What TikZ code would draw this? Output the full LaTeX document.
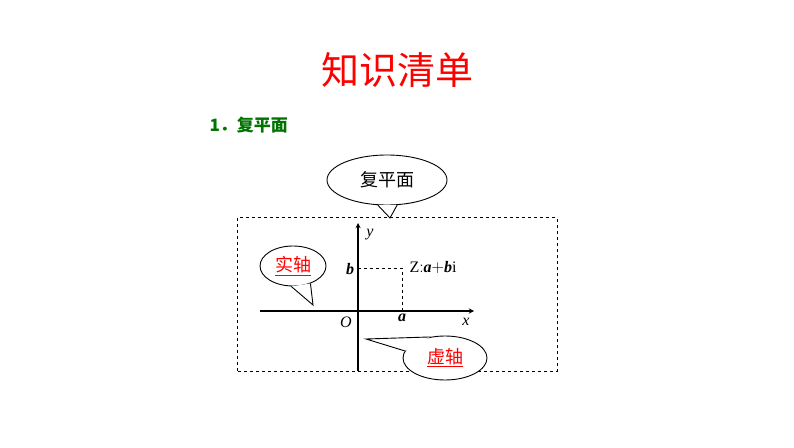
\documentclass[tikz,border=0pt]{standalone}
\usepackage{fontspec}
\newfontfamily\cjk{Noto Sans CJK SC}
\setmainfont{Liberation Serif}
\usetikzlibrary{shapes.geometric, arrows, positioning, calc}
\tikzstyle{arrow} = [line width=1.3pt,->,>=stealth]
\tikzstyle{bubble} = [ellipse, draw, line width=0.9pt, fill=white, inner sep=0pt]
\begin{document}
\begin{tikzpicture}[x=1pt,y=1pt]
\useasboundingbox (0,0) rectangle (794,447);

% Title
\node[text=red, font=\cjk\fontsize{38}{38}\selectfont] (title) at (397,377) {知识清单};
\node[anchor=west, text=green!45!black, font=\cjk\bfseries\fontsize{17}{17}\selectfont] (sec) at (206,322) {1．复平面};

% Plane frame
\draw[line width=1pt, dashed] (237,76) rectangle (557,229);

% Axes
\coordinate (O) at (358,136);
\coordinate (ybot) at (358,76);
\coordinate (ytop) at (358,224);
\coordinate (xl) at (260,136);
\coordinate (xr) at (474,136);
\draw[arrow] (ybot) -- (ytop);
\draw[arrow] (xl) -- (xr);
\node[font=\itshape\fontsize{16}{16}\selectfont] (ylab) at (370,212) {y};
\node[font=\itshape\fontsize{16}{16}\selectfont] (xlab) at (466,125) {x};
\node[font=\itshape\fontsize{16}{16}\selectfont] (olab) at (346,125) {O};
\node[font=\itshape\bfseries\fontsize{16}{16}\selectfont] (alab) at (402,129) {a};
\node[font=\itshape\bfseries\fontsize{16}{16}\selectfont] (blab) at (350,178) {b};
\coordinate (pb) at (358,179);
\coordinate (pz) at (402,179);
\coordinate (pa) at (402,136);
\draw[line width=0.9pt, dashed] (pb) -- (pz) -- (pa);
\node[anchor=west, font=\fontsize{16}{16}\selectfont] (zlab) at (406,180) {Z$\colon$\textbf{\textit{a}}$+$\textbf{\textit{b}}i};

% Callout: plane
\node[bubble, minimum width=120, minimum height=50] (plane) at (387,267) {\cjk\fontsize{18}{18}\selectfont 复平面};
\coordinate (ptip) at (390,229);
\fill[white] (plane.-110) -- (ptip) -- (plane.-68) -- cycle;
\draw[line width=0.9pt] (plane.-110) -- (ptip) -- (plane.-68);

% Callout: real axis
\node[bubble, minimum width=66, minimum height=40] (real) at (293,181) {\cjk\fontsize{18}{18}\selectfont\textcolor{red}{\underline{实轴}}};
\coordinate (rtip) at (313,142);
\fill[white] (real.-95) -- (rtip) -- (real.-45) -- cycle;
\draw[line width=0.9pt] (real.-95) -- (rtip) -- (real.-45);

% Callout: imaginary axis
\node[bubble, minimum width=84, minimum height=44] (imag) at (445,89) {\cjk\fontsize{18}{18}\selectfont\textcolor{red}{\underline{虚轴}}};
\coordinate (itip) at (366,108);
\fill[white] (imag.170) -- (itip) -- (imag.125) -- cycle;
\draw[line width=0.9pt] (imag.170) -- (itip) -- (imag.125);
\end{tikzpicture}
\end{document}
